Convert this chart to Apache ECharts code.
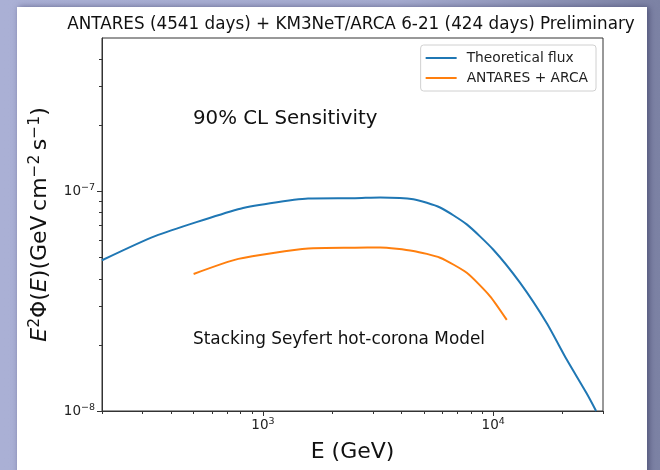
<!DOCTYPE html>
<html><head><meta charset="utf-8">
<script src="https://cdn.jsdelivr.net/npm/echarts@6/dist/echarts.min.js"></script>
<style>
html,body{margin:0;padding:0;}
body{width:660px;height:470px;overflow:hidden;background:linear-gradient(90deg,#aab0d5 0%,#a6acd0 60%,#7c82a4 100%);position:relative;}
#panel{position:absolute;left:17px;top:7px;width:630px;height:480px;background:#fff;box-shadow:2px 0 6px rgba(40,40,80,0.55);}
#c{position:absolute;left:0;top:0;width:660px;height:470px;}
</style>
</head><body><div id="panel"></div><div id="c"></div>
<script>
// Theoretical flux (blue)
const theoryEnergy = [200, 340, 780, 1075, 1570, 2510, 3230, 4500, 5880, 7680, 10000, 13100, 17100, 20900, 25500, 28000];
const theoryFlux   = [4.86e-8, 6.26e-8, 8.30e-8, 8.84e-8, 9.29e-8, 9.32e-8, 9.39e-8, 9.22e-8, 8.45e-8, 7.08e-8, 5.44e-8, 3.83e-8, 2.51e-8, 1.71e-8, 1.20e-8, 1.0e-8];
// ANTARES + ARCA sensitivity (orange)
const sensEnergy = [500, 782, 1575, 2510, 3230, 4500, 5880, 7680, 9700, 11460];
const sensFlux   = [4.21e-8, 4.93e-8, 5.50e-8, 5.54e-8, 5.56e-8, 5.36e-8, 4.99e-8, 4.26e-8, 3.33e-8, 2.60e-8];
// ticks
const xMajorTicks = [1000, 10000];
const xMinorTicks = [200, 300, 400, 500, 600, 700, 800, 900, 2000, 3000, 4000, 5000, 6000, 7000, 8000, 9000, 20000, 30000];
const yMajorTicks = [1e-8, 1e-7];
const yMinorTicks = [2e-8, 3e-8, 4e-8, 5e-8, 6e-8, 7e-8, 8e-8, 9e-8, 2e-7, 3e-7, 4e-7];
const seriesNames = ['Theoretical flux', 'ANTARES + ARCA'];
const titleText = 'ANTARES (4541 days) + KM3NeT/ARCA 6-21 (424 days) Preliminary';

const FONT = 'DejaVu Sans';
const axisColor = '#333';
const supFmt = v => '10{sup|' + String(Math.round(Math.log10(v))).replace('-', '\u2212') + '}';
const labelRich = { sup: { fontSize: 9.5, fontFamily: FONT, color: '#222', verticalAlign: 'top', padding: [0, 0, 7, 0] } };

const chart = echarts.init(document.getElementById('c'), null, { renderer: 'canvas' });
const xBase = { type: 'log', logBase: 10, min: 200, max: 30000, gridIndex: 0, position: 'bottom', splitLine: { show: false } };
const yBase = { type: 'log', logBase: 10, min: 1e-8, max: 5e-7, gridIndex: 0, position: 'left', splitLine: { show: false } };

chart.setOption({
  backgroundColor: 'transparent',
  animation: false,
  textStyle: { fontFamily: FONT },
  title: {
    text: titleText, left: 346, top: 11, textAlign: 'center',
    textStyle: { fontFamily: FONT, fontSize: 16.8, fontWeight: 'normal', color: '#111' }
  },
  grid: { left: 102, right: 57, top: 38, bottom: 59, show: true, borderColor: axisColor, borderWidth: 1, backgroundColor: 'transparent' },
  legend: {
    data: seriesNames, orient: 'vertical', right: 64, top: 45,
    icon: 'rect', itemWidth: 31, itemHeight: 2, itemGap: 6,
    padding: [6, 8, 6, 5],
    borderColor: '#d0d0d0', borderWidth: 1, borderRadius: 3, backgroundColor: 'rgba(255,255,255,0.85)',
    textStyle: { fontFamily: FONT, fontSize: 13.8, color: '#222', padding: [0, 0, 0, 5] }
  },
  xAxis: [
    Object.assign({}, xBase, {
      name: 'E (GeV)', nameLocation: 'middle', nameGap: 30,
      nameTextStyle: { fontFamily: FONT, fontSize: 22, color: '#111' },
      axisLine: { show: true, lineStyle: { color: axisColor, width: 1 } },
      axisTick: { show: true, length: 5, inside: false, customValues: xMajorTicks, lineStyle: { color: axisColor } },
      axisLabel: { show: true, customValues: xMajorTicks, formatter: supFmt, fontSize: 13.5, color: '#222', margin: 6, rich: labelRich }
    }),
    Object.assign({}, xBase, {
      axisLine: { show: false },
      axisTick: { show: true, length: 3, inside: false, customValues: xMinorTicks, lineStyle: { color: axisColor } },
      axisLabel: { show: false }
    })
  ],
  yAxis: [
    Object.assign({}, yBase, {
      name: '{it|E}{sup|2}\u03A6({it|E})(GeV\u2009cm{sup|\u22122}\u2009s{sup|\u22121})',
      nameLocation: 'middle', nameGap: 48, nameRotate: 90,
      nameTextStyle: { fontFamily: FONT, fontSize: 22, color: '#111',
        rich: { it: { fontStyle: 'italic', fontSize: 22, fontFamily: FONT, color: '#111' },
                sup: { fontSize: 15.5, fontFamily: FONT, color: '#111', verticalAlign: 'top', padding: [0, 0, 11, 0] } } },
      axisLine: { show: true, lineStyle: { color: axisColor, width: 1 } },
      axisTick: { show: true, length: 5, inside: false, customValues: yMajorTicks, lineStyle: { color: axisColor } },
      axisLabel: { show: true, customValues: yMajorTicks, formatter: supFmt, fontSize: 13.5, color: '#222', margin: 7, rich: labelRich }
    }),
    Object.assign({}, yBase, {
      axisLine: { show: false },
      axisTick: { show: true, length: 3, inside: false, customValues: yMinorTicks, lineStyle: { color: axisColor } },
      axisLabel: { show: false }
    })
  ],
  graphic: [
    { type: 'text', left: 193, top: 109, style: { text: '90% CL Sensitivity', font: '19.8px "DejaVu Sans"', fill: '#111' } },
    { type: 'text', left: 193, top: 331, style: { text: 'Stacking Seyfert hot-corona Model', font: '16.9px "DejaVu Sans"', fill: '#111' } }
  ],
  series: [
    { name: seriesNames[0], type: 'line', xAxisIndex: 0, yAxisIndex: 0, showSymbol: false, symbol: 'none', smooth: 0.2,
      data: theoryEnergy.map((e, i) => [e, theoryFlux[i]]), lineStyle: { color: '#1f77b4', width: 2 }, itemStyle: { color: '#1f77b4' }, clip: true },
    { name: seriesNames[1], type: 'line', xAxisIndex: 0, yAxisIndex: 0, showSymbol: false, symbol: 'none', smooth: 0.2,
      data: sensEnergy.map((e, i) => [e, sensFlux[i]]), lineStyle: { color: '#ff7f0e', width: 2 }, itemStyle: { color: '#ff7f0e' } }
  ]
});
</script>
</body></html>
